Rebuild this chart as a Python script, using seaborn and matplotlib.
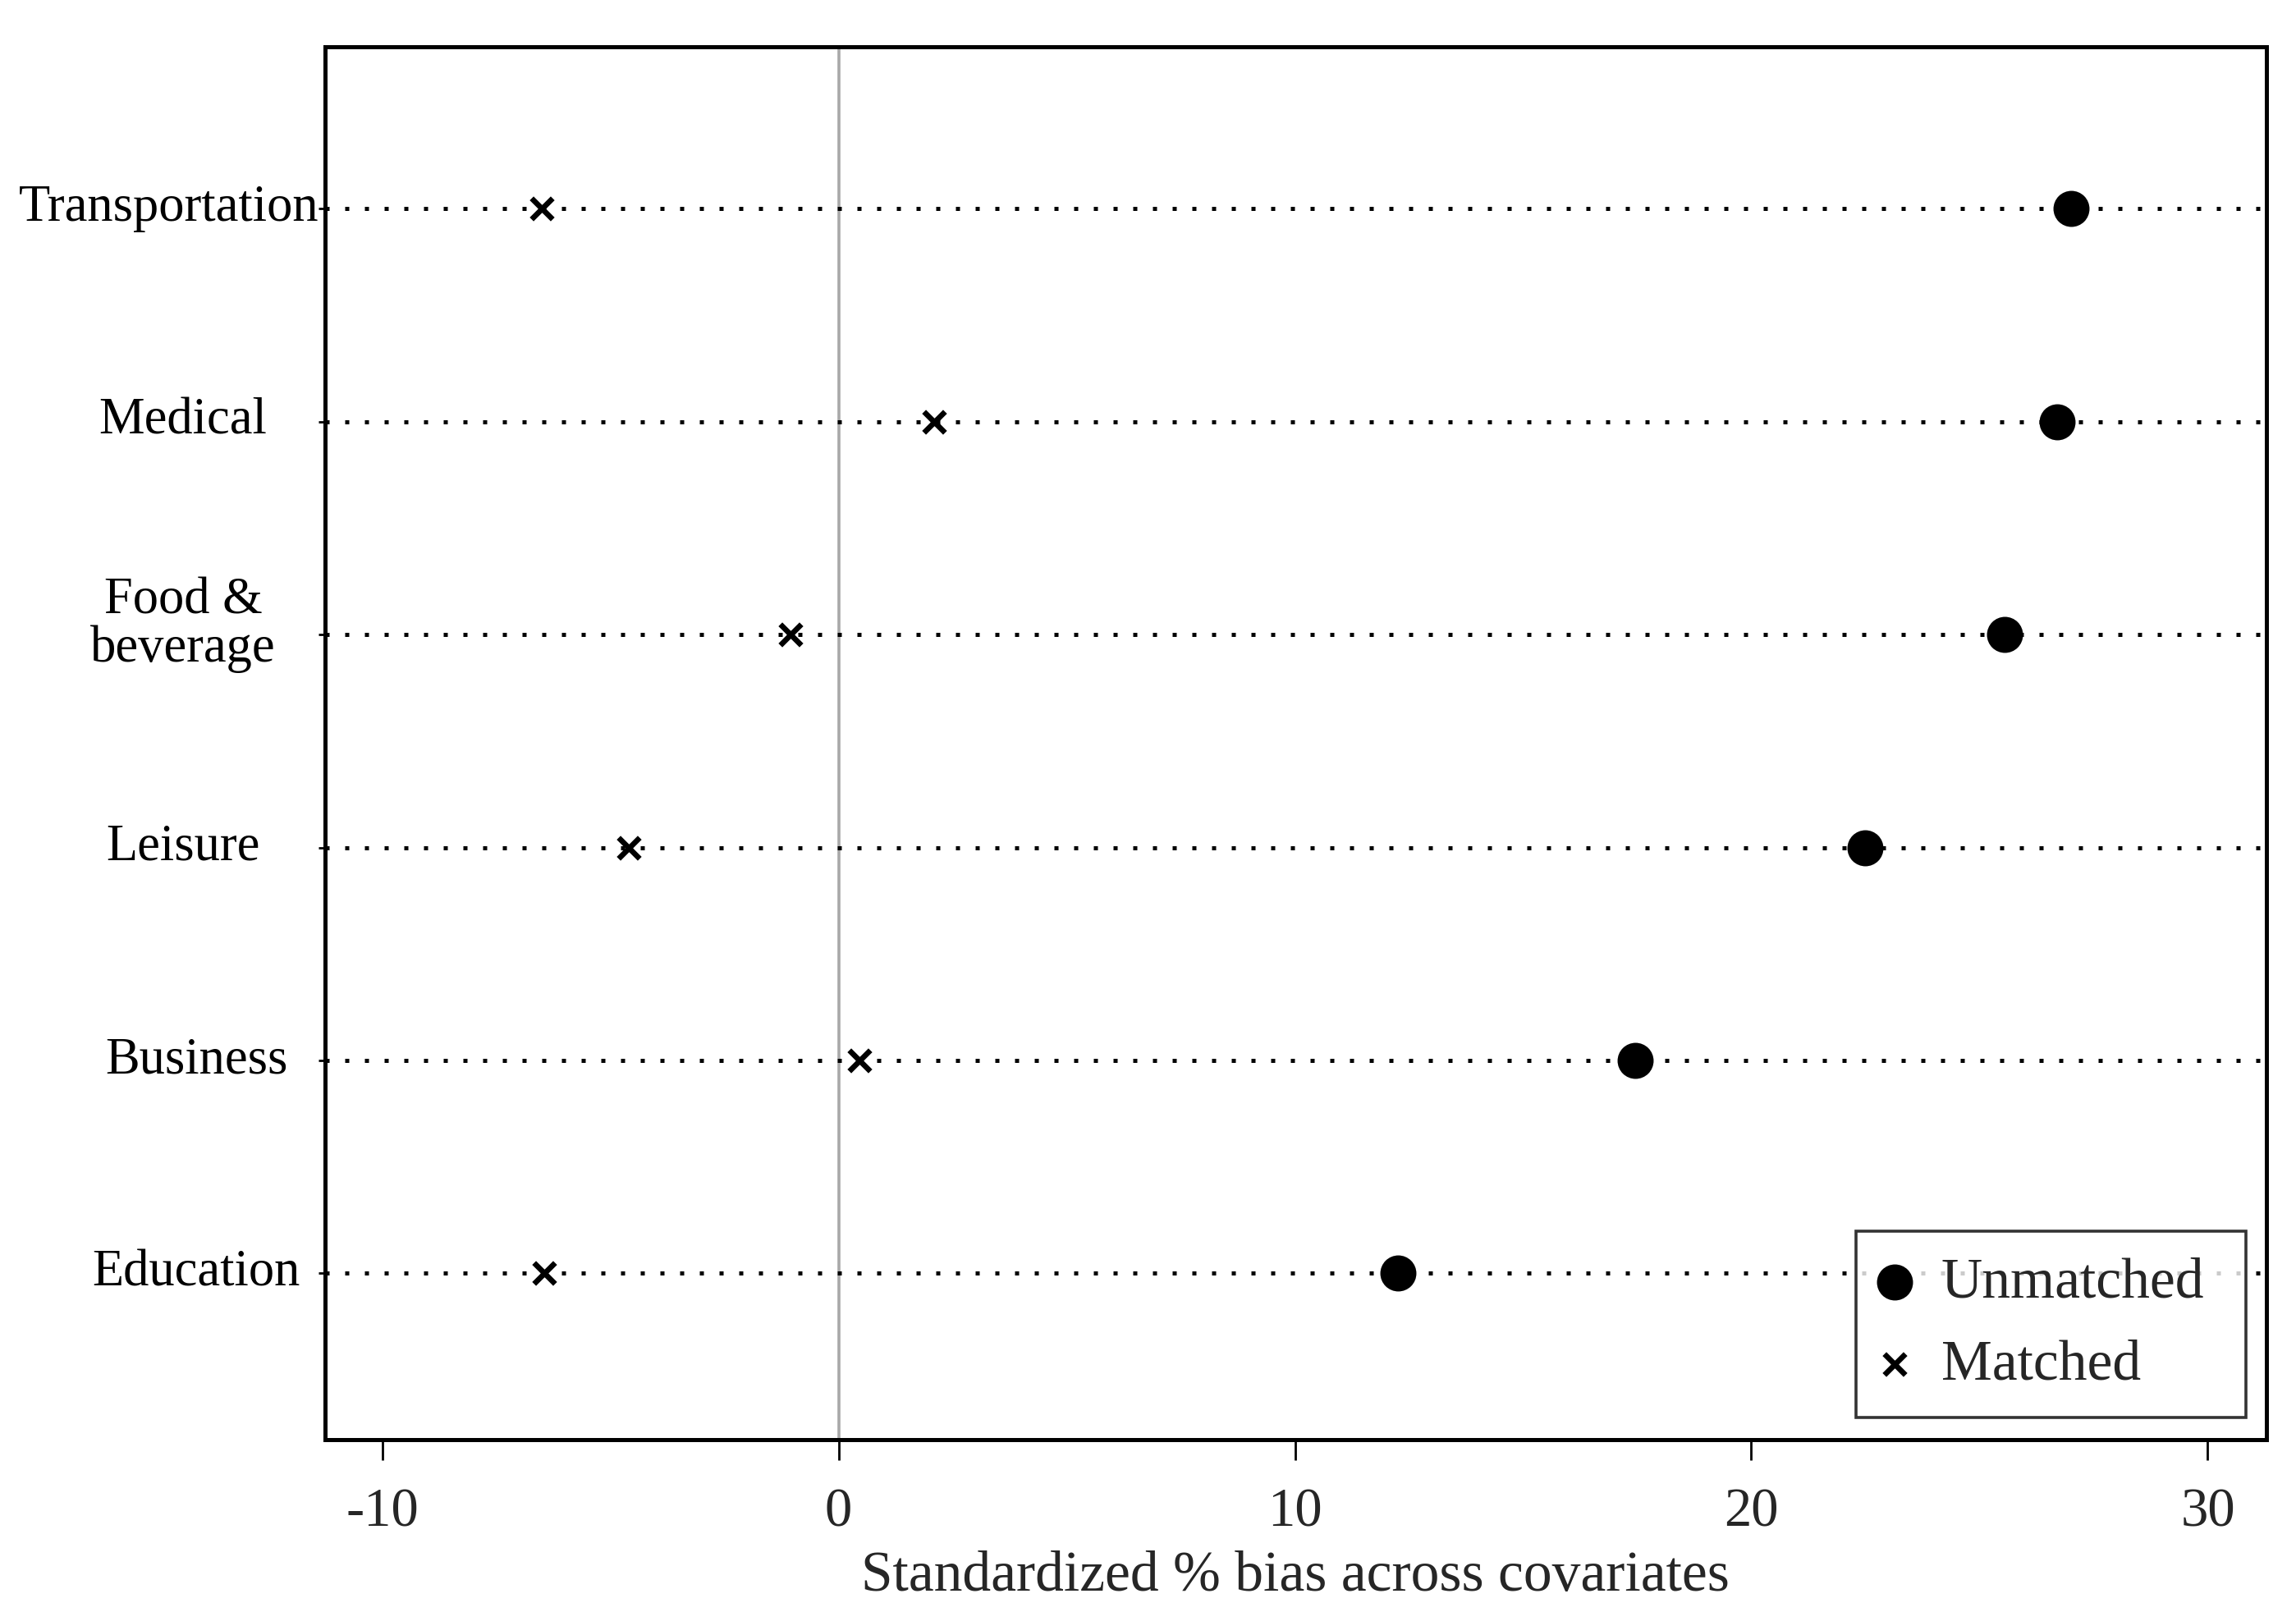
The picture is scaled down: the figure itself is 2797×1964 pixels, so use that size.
import matplotlib
matplotlib.use("Agg")
import matplotlib.pyplot as plt
import matplotlib.transforms as mtransforms
import seaborn as sns
import pandas as pd

# ---- data ----
categories = ["Transportation", "Medical", "Food &\nbeverage", "Leisure", "Business", "Education"]
unmatched = [27.0, 26.7, 25.55, 22.5, 17.45, 12.25]
matched = [-6.5, 2.1, -1.05, -4.6, 0.45, -6.45]
xticks = [-10, 0, 10, 20, 30]
xlabel = "Standardized % bias across covariates"

sns.set_theme(style="ticks")
plt.rcParams['font.family'] = ['Liberation Serif', 'DejaVu Serif']

fig = plt.figure(figsize=(13.985, 9.82), dpi=200)
ax = fig.add_axes([0.1416, 0.107, 0.8454, 0.864])

df_u = pd.DataFrame({"cat": categories, "bias": unmatched})
df_m = pd.DataFrame({"cat": categories, "bias": matched})

ax.axvline(0, color='#a8a8a8', lw=1.3, zorder=1)
sns.scatterplot(data=df_u, x="bias", y="cat", marker='o', s=250, color='black',
                edgecolor='black', linewidth=0, label='Unmatched', ax=ax, zorder=3)
sns.scatterplot(data=df_m, x="bias", y="cat", marker='x', s=85, color='black',
                linewidth=2.4, label='Matched', ax=ax, zorder=3)

ax.set_xlim(-11.25, 31.28)
ax.set_ylim(5.78, -0.76)
ax.set_xticks(xticks)
ax.set_xticklabels([str(t) for t in xticks])

# dotted row guides at each category tick
ax.grid(False)
for yv in ax.get_yticks():
    ax.axhline(yv, color='black', linestyle=(0, (1, 3.8)), linewidth=1.8,
               dash_capstyle='butt', zorder=2)

for sp in ax.spines.values():
    sp.set_visible(True)
    sp.set_color('black')
    sp.set_linewidth(1.8)
    sp.set_zorder(4)

ax.tick_params(axis='x', direction='out', length=9, width=1, color='black',
               pad=12, labelsize=24, bottom=True)
ax.tick_params(axis='y', direction='out', length=3, width=1, color='black',
               left=True, labelleft=False)

# category labels, centred left of the axis
label_shift_pt = [-6.4, 0, 0, 0, 5.8, 5.8]
base = ax.get_yaxis_transform()
for yv, cat, dx in zip(ax.get_yticks(), categories, label_shift_pt):
    tr = base + mtransforms.ScaledTranslation((-62.3 + dx) / 72, 0, fig.dpi_scale_trans)
    dy = 4 if "\n" in cat else 0
    tr = tr + mtransforms.ScaledTranslation(0, dy / 72, fig.dpi_scale_trans)
    ax.text(0, yv, cat, transform=tr, ha='center', va='center', multialignment='center',
            fontsize=22.5, linespacing=1.0, color='black')

ax.set_ylabel("")
ax.set_xlabel(xlabel, fontsize=25, labelpad=6)

leg = ax.legend(loc='lower left', bbox_to_anchor=(0.7888, 0.016, 0.2006, 0.2),
                mode='expand', borderaxespad=0,
                frameon=True, fancybox=False, edgecolor='black', fontsize=25,
                handletextpad=0.6, handlelength=0.44, borderpad=0.45, labelspacing=0.53)
leg.get_frame().set_linewidth(1.3)
leg.set_zorder(5)

fig.savefig("out.png", dpi=200, facecolor='white')
